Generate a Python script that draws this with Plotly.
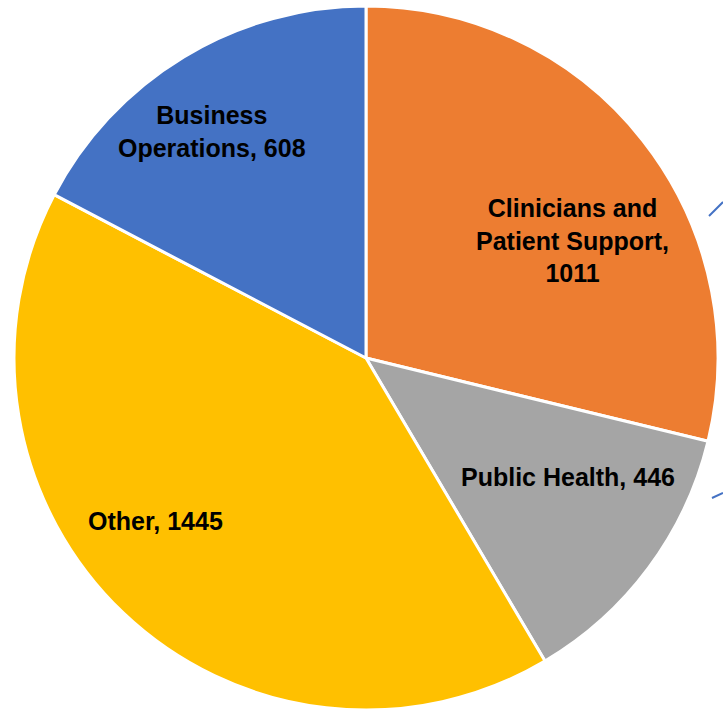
import plotly.graph_objects as go

labels = ["Clinicians and Patient Support", "Public Health", "Other", "Business Operations"]
values = [1011, 446, 1445, 608]
colors = ["#ED7D31", "#A5A5A5", "#FFC000", "#4472C4"]
label_texts = ["Clinicians and<br>Patient Support,<br>1011", "Public Health, 446", "Other, 1445", "Business<br>Operations, 608"]
label_pos = [(572, 240), (568, 477), (155, 521), (212, 132)]

W, H = 723, 711
cx, cy, r = 366, 358, 352


def clamp(v):
    return min(1.0, max(0.0, v))


fig = go.Figure(go.Pie(
    labels=labels, values=values, sort=False, direction="clockwise", rotation=0,
    marker=dict(colors=colors, line=dict(color="white", width=3)),
    textinfo="none", hoverinfo="label+value", showlegend=False,
    domain=dict(x=[clamp((cx - r) / W), clamp((cx + r) / W)],
                y=[clamp((H - cy - r) / H), clamp((H - cy + r) / H)]),
))

for t, (x, y) in zip(label_texts, label_pos):
    fig.add_annotation(x=x / W, y=1 - y / H, xref="paper", yref="paper",
                       xanchor="center", yanchor="middle", text="<b>" + t + "</b>",
                       showarrow=False, font=dict(family="Liberation Sans", size=25, color="black"),
                       align="center")

fig.add_shape(type="line", xref="paper", yref="paper", x0=709 / W, y0=1 - 216 / H,
              x1=723 / W, y1=1 - 202 / H, line=dict(color="#4472C4", width=2))
fig.add_shape(type="line", xref="paper", yref="paper", x0=712 / W, y0=1 - 498 / H,
              x1=723 / W, y1=1 - 493 / H, line=dict(color="#4472C4", width=2))

fig.update_layout(width=W, height=H, margin=dict(l=0, r=0, t=0, b=0),
                  paper_bgcolor="white", plot_bgcolor="white")
fig.write_html("out.html", config={"displayModeBar": False},
               post_script="document.body.style.margin='0';document.body.style.overflow='hidden';")
